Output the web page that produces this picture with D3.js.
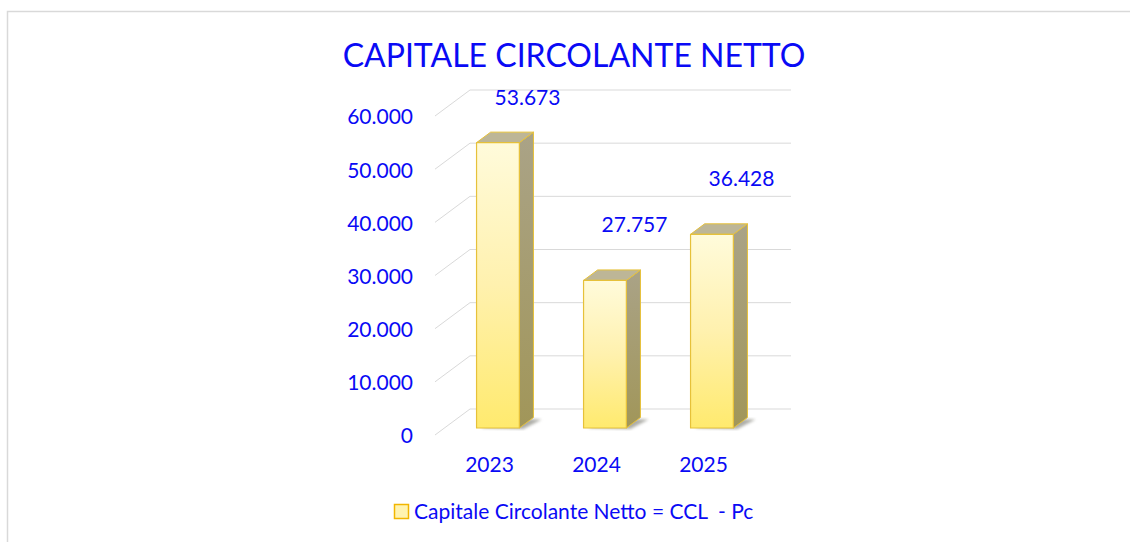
<!DOCTYPE html>
<html><head><meta charset="utf-8">
<script src="https://cdn.jsdelivr.net/npm/d3@7"></script>
<style>
html,body{margin:0;padding:0;background:#fff;}
svg{display:block;font-family:Lato,"Open Sans",sans-serif;}
text{white-space:pre;}
</style></head>
<body><svg id="c" width="1130" height="542"></svg>
<script>
const categories = ["2023", "2024", "2025"];
const values = [53673, 27757, 36428];
const valueLabels = ["53.673", "27.757", "36.428"];
const tickValues = [0, 10000, 20000, 30000, 40000, 50000, 60000];
const tickLabels = ["0", "10.000", "20.000", "30.000", "40.000", "50.000", "60.000"];
const title = "CAPITALE CIRCOLANTE NETTO";
const legendLabel = "Capitale Circolante Netto = CCL  - Pc";

const svg = d3.select("#c");
const blue = "#0a0af5";
const FS = 21;

// frame
svg.append("path").attr("d","M7.5,542 L7.5,11.5 L1130,11.5").attr("fill","none").attr("stroke","#d9d9d9").attr("stroke-width",1.5);

// back-wall scales
const y = d3.scaleLinear().domain([0, 60000]).range([409, 90]);
const x = d3.scaleBand().domain(categories).range([470, 791]).padding(0);
const DX = -35, DY = 26; // front-plane offset (z=1)
const P = (xb, v, z) => [xb + DX * z, y(v) + DY * z];

const defs = svg.append("defs");
const gf = defs.append("linearGradient").attr("id","gFront").attr("x1",0).attr("y1",0).attr("x2",0).attr("y2",1);
gf.append("stop").attr("offset","0%").attr("stop-color","#fffbdb");
gf.append("stop").attr("offset","50%").attr("stop-color","#fff1ae");
gf.append("stop").attr("offset","100%").attr("stop-color","#ffea6e");
const gs = defs.append("linearGradient").attr("id","gSide").attr("x1",0).attr("y1",0).attr("x2",0).attr("y2",1);
gs.append("stop").attr("offset","0%").attr("stop-color","#aaa387");
gs.append("stop").attr("offset","100%").attr("stop-color","#a19659");
defs.append("filter").attr("id","blur").append("feGaussianBlur").attr("stdDeviation",1.6);

// gridlines on back wall + side diagonals
const grid = svg.append("g");
tickValues.forEach(v => {
  grid.append("line").attr("x1", 470).attr("x2", 791).attr("y1", y(v)).attr("y2", y(v))
    .attr("stroke", "#d9d9d9").attr("stroke-width", 1);
  const f = P(470, v, 1);
  grid.append("line").attr("x1", f[0]).attr("y1", f[1]).attr("x2", 470).attr("y2", y(v))
    .attr("stroke", "#d9d9d9").attr("stroke-width", 1);
});

// y tick labels (front plane)
svg.append("g").selectAll("text").data(tickValues).join("text")
  .attr("x", 413).attr("y", d => y(d) + DY + 1)
  .attr("dy", "0.35em").attr("text-anchor", "end")
  .attr("fill", blue).attr("font-size", FS).text((d, i) => tickLabels[i]);

// bars
const zF = 0.73, zB = 0.327;
const bars = svg.append("g");
categories.forEach((c, i) => {
  const v = values[i];
  const bw = x.bandwidth() * 0.4;
  const xl = x(c) + (x.bandwidth() - bw) / 2, xr = xl + bw;
  const fl0 = P(xl, 0, zF), fr0 = P(xr, 0, zF), flT = P(xl, v, zF), frT = P(xr, v, zF);
  const bl0 = P(xl, 0, zB), br0 = P(xr, 0, zB), blT = P(xl, v, zB), brT = P(xr, v, zB);
  const poly = pts => "M" + pts.map(p => p.join(",")).join("L") + "Z";
  // shadow
  bars.append("path").attr("d", poly([[fl0[0]+4, fl0[1]], [fr0[0]+4, fr0[1]+1], [br0[0]+8, br0[1]+2], [bl0[0]+14, bl0[1]+1]]))
    .attr("fill", "#6b6b60").attr("opacity", 0.55).attr("filter", "url(#blur)");
  // side
  bars.append("path").attr("d", poly([fr0, frT, brT, br0])).attr("fill", "url(#gSide)")
    .attr("stroke", "#e6c13a").attr("stroke-width", 1).attr("stroke-linejoin", "round");
  // top
  bars.append("path").attr("d", poly([flT, frT, brT, blT])).attr("fill", "#bdb697")
    .attr("stroke", "#e6c13a").attr("stroke-width", 1).attr("stroke-linejoin", "round");
  // front
  bars.append("path").attr("d", poly([fl0, flT, frT, fr0])).attr("fill", "url(#gFront)")
    .attr("stroke", "#e6c13a").attr("stroke-width", 1.2).attr("stroke-linejoin", "round");
  // value label
  const ly = Math.max(y(v) + DY * zF - 56, 98);
  svg.append("text").attr("x", x(c) + x.bandwidth() / 2 + 4).attr("y", ly).attr("dy", "0.35em")
    .attr("text-anchor", "middle").attr("fill", blue).attr("font-size", FS).text(valueLabels[i]);
});

// x labels (front plane)
svg.append("g").selectAll("text").data(categories).join("text")
  .attr("x", d => x(d) + x.bandwidth() / 2 + DX + 1).attr("y", y(0) + DY + 30)
  .attr("dy", "0.35em").attr("text-anchor", "middle")
  .attr("fill", blue).attr("font-size", FS).text(d => d);

// title
svg.append("text").attr("x", 574).attr("y", 67).attr("text-anchor", "middle")
  .attr("fill", blue).attr("font-size", 32).text(title);

// legend
const lg = svg.append("g");
lg.append("rect").attr("x", 394.5).attr("y", 504.5).attr("width", 14).attr("height", 14)
  .attr("fill", "#fff3b0").attr("stroke", "#f2b600").attr("stroke-width", 1.5);
lg.append("text").attr("x", 414).attr("y", 512).attr("dy", "0.35em")
  .attr("fill", blue).attr("font-size", FS).text(legendLabel);
</script></body></html>
